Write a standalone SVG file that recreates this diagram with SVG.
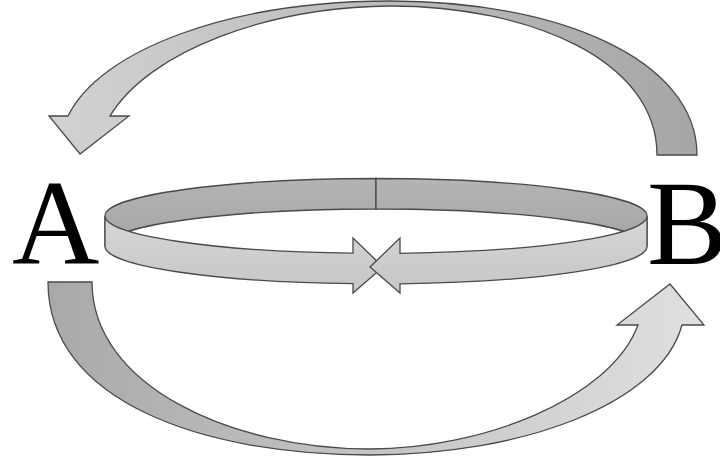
<svg xmlns="http://www.w3.org/2000/svg" width="720" height="462" viewBox="0 0 720 462">
<defs>
<linearGradient id="gTop" x1="0" y1="0" x2="1" y2="0">
<stop offset="0" stop-color="#d2d2d2"/>
<stop offset="1" stop-color="#a6a6a6"/>
</linearGradient>
<linearGradient id="gBot" x1="0" y1="0" x2="1" y2="0">
<stop offset="0" stop-color="#a9a9a9"/>
<stop offset="1" stop-color="#e0e0e0"/>
</linearGradient>
<linearGradient id="gBack" x1="0" y1="0" x2="0" y2="1">
<stop offset="0" stop-color="#b4b4b4"/>
<stop offset="1" stop-color="#a4a4a4"/>
</linearGradient>
<linearGradient id="gFront" x1="0" y1="0" x2="0" y2="1">
<stop offset="0" stop-color="#d6d6d6"/>
<stop offset="1" stop-color="#c6c6c6"/>
</linearGradient>
</defs>
<style>
.arr{stroke:#4a4a4a;stroke-width:1.3;stroke-linejoin:miter}
.lbl{font-family:"Liberation Serif","Times New Roman",serif;font-size:121px;fill:#000}
</style>
<g id="label-A"><text class="lbl" x="12" y="264">A</text></g>
<g id="label-B"><text class="lbl" x="647" y="264">B</text></g>
<g id="connectors">
<g id="arrow-top">
<path class="arr" fill="url(#gTop)" d="M657,155 L697,155 C697,60 560,1 390,1 C230,1 100,50 68,116 L49,116 L80,154 L129,116 L110,116 C150,50 270,7 390,6 C530,6 657,60 657,155 Z"/>
</g>
<g id="arrow-bottom">
<path class="arr" fill="url(#gBot)" d="M48,282 L92,282 C92,385 230,449 370,449 C480,449 610,400 638,325 L617,325 L670,284 L704,325 L682,325 C660,405 520,455 370,455 C200,455 48,400 48,282 Z"/>
</g>
<g id="ring">
<path class="arr" fill="url(#gBack)" d="M105,216 A271 37.5 0 0 1 376,178.5 L376,209 A271 37.5 0 0 0 105,246.5 Z"/>
<path class="arr" fill="url(#gBack)" d="M376,178.5 A271 37.5 0 0 1 647,216 L647,246.5 A271 37.5 0 0 0 376,209 Z"/>
<path class="arr" fill="url(#gFront)" d="M105,216 A271 37.5 0 0 0 353,253.2 L353,238 L383,267 L353,293 L353,283.7 A271 37.5 0 0 1 105,246.5 Z"/>
<path class="arr" fill="url(#gFront)" d="M647,216 A271 37.5 0 0 1 400,253.3 L400,238 L370,267 L400,293 L400,283.8 A271 37.5 0 0 0 647,246.5 Z"/>
</g>
</g>
</svg>
